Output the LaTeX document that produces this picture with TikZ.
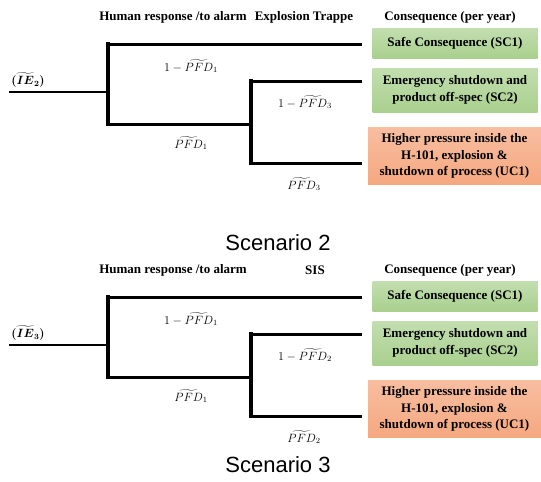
\documentclass[tikz,border=0pt]{standalone}
\usepackage{amsmath}
\usepackage{fontspec}
\setmainfont{Liberation Serif}
\newfontfamily\scenfont{Liberation Sans}
\definecolor{safegreen}{RGB}{169,208,142}
\definecolor{unsafeorange}{RGB}{245,168,128}

\begin{document}
\begin{tikzpicture}[x=1pt,y=-1pt,
  iline/.style={line width=2.5pt},
  branch/.style={line width=3pt},
  stem/.style={line width=4pt,line cap=rect},
  header/.style={font=\fontsize{13}{15}\selectfont\bfseries},
  prob/.style={font=\fontsize{12}{14}\selectfont},
  outbox/.style={minimum width=165,inner sep=2pt,align=center,
    font=\fontsize{13}{16.5}\selectfont\bfseries},
  safebox/.style={outbox,fill=safegreen,top color=safegreen!70!white,bottom color=safegreen},
  unsafebox/.style={outbox,fill=unsafeorange,top color=unsafeorange!75!white,bottom color=unsafeorange},
  scen/.style={font=\fontsize{22}{26}\selectfont\scenfont}]
  \useasboundingbox (0,0) rectangle (541,482);
  % --- Helper: \eventtree{prefix}{yshift}{IE index}{barrier}{barrier x}{PFD index} ---
  % Draws one event tree with its headers and its three consequence boxes.
  \newcommand{\eventtree}[6]{%
    \begin{scope}[shift={(0,#2)}]
      \coordinate (#1ie) at (9,92);
      \coordinate (#1a) at (108,92);
      \coordinate (#1at) at (108,44);
      \coordinate (#1ab) at (108,124);
      \coordinate (#1bt) at (251,81);
      \coordinate (#1bb) at (251,163);
      \node[header] (#1h1) at (173,17) {Human response /to alarm};
      \node[header] (#1h2) at (#5,17) {#4};
      \node[header] (#1h3) at (450,17) {Consequence (per year)};
      \node[safebox,minimum height=30] (#1sc1) at (455,43) {Safe Consequence (SC1)};
      \node[safebox,minimum height=44] (#1sc2) at (455,90)
        {Emergency shutdown and\\product off-spec (SC2)};
      \node[unsafebox,minimum width=173,minimum height=57] (#1uc1) at (454.5,156)
        {Higher pressure inside the\\H-101, explosion \&\\shutdown of process (UC1)};
      \coordinate (#1e1) at (#1sc1.west |- #1at);
      \coordinate (#1e2) at (#1sc2.west |- #1bt);
      \coordinate (#1e3) at (#1uc1.west |- #1bb);
      \node[font=\fontsize{12}{14}\selectfont] (#1iel) at (28,80) {$\boldsymbol{(\widetilde{IE}_{#3})}$};
      \draw[iline] (#1ie) -- (#1a);
      \draw[stem] (#1at) -- (#1ab);
      \draw[branch] (#1at) -- ([xshift=-10pt]#1e1);
      \draw[branch] (#1ab) -- (#1ab -| #1bt);
      \draw[stem] (#1bt) -- (#1bb);
      \draw[branch] (#1bt) -- ([xshift=-10pt]#1e2);
      \draw[branch] (#1bb) -- ([xshift=-6pt]#1e3);
      \node[prob] (#1p1) at (191,66) {$1-\widetilde{PFD}_1$};
      \node[prob] (#1q1) at (191,143) {$\widetilde{PFD}_1$};
      \node[prob] (#1p2) at (305,102) {$1-\widetilde{PFD}_{#6}$};
      \node[prob] (#1q2) at (304,184) {$\widetilde{PFD}_{#6}$};
    \end{scope}}
  % Scenario 2 (explosion trapper), then scenario 3 (SIS).
  \eventtree{s2}{0}{2}{Explosion Trappe}{304}{3}
  \eventtree{s3}{253}{3}{SIS}{315}{2}
  \node[scen] (lbl2) at (278,243) {Scenario 2};
  \node[scen] (lbl3) at (278,465) {Scenario 3};
\end{tikzpicture}
\end{document}
